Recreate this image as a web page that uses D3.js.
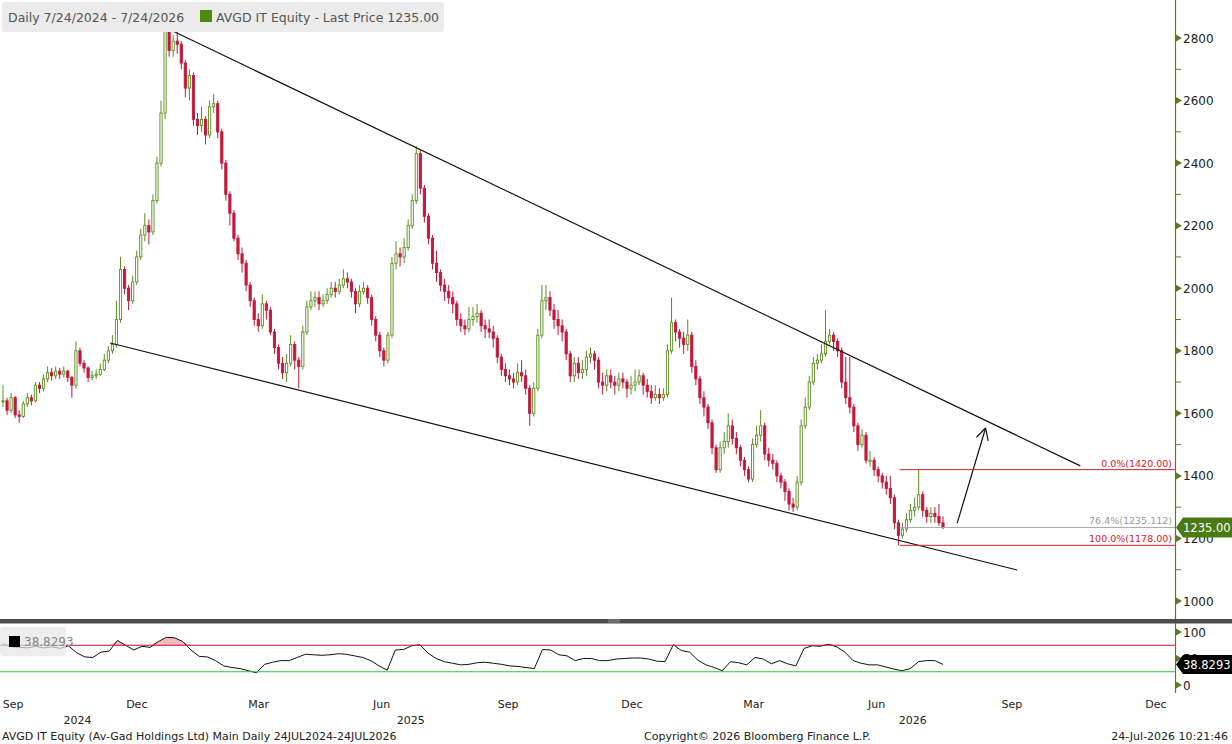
<!DOCTYPE html>
<html>
<head>
<meta charset="utf-8">
<script src="https://cdn.jsdelivr.net/npm/d3@7"></script>
<style>
  body { margin: 0; background: #fff; }
  svg { display: block; font-family: "DejaVu Sans", sans-serif; }
</style>
</head>
<body>
<svg id="chart" width="1232" height="744"></svg>
<script>
// dates of the visible window
const firstDate = new Date(2024, 7, 30);
const lastDate = new Date(2026, 6, 24);
const axisEndDate = new Date(2026, 11, 18);

// bars, one every ~3 calendar days (open = previous close)
const closes = [
  1640,1610,1650,1595,1590,1630,1650,1640,1690,1680,
  1710,1730,1720,1735,1725,1735,1715,1690,1800,1760,
  1745,1715,1720,1725,1740,1770,1800,1820,1900,2060,
  2000,1960,2020,2100,2170,2200,2180,2280,2400,2560,
  2830,2760,2790,2780,2720,2640,2680,2540,2520,2540,
  2490,2580,2590,2500,2400,2300,2240,2160,2110,2080,
  2010,1960,1900,1880,1950,1930,1860,1810,1760,1730,
  1760,1820,1770,1750,1860,1940,1960,1970,1950,1960,
  1980,2000,1990,2010,2030,2020,1990,1950,1990,2000,
  1970,1900,1850,1800,1770,1850,2080,2110,2100,2130,
  2200,2280,2430,2320,2230,2160,2080,2050,2010,1990,
  1970,1950,1900,1880,1870,1900,1910,1920,1880,1870,
  1860,1840,1780,1740,1720,1710,1700,1730,1720,1680,
  1600,1680,1850,1960,1970,1930,1900,1880,1860,1790,
  1720,1760,1730,1740,1780,1790,1770,1700,1690,1720,
  1700,1690,1710,1700,1680,1690,1700,1720,1690,1670,
  1650,1660,1650,1660,1800,1890,1860,1840,1820,1850,
  1750,1710,1650,1620,1570,1490,1420,1490,1510,1560,
  1520,1490,1450,1420,1390,1500,1530,1560,1470,1450,
  1440,1400,1380,1350,1310,1300,1380,1560,1620,1700,
  1760,1770,1790,1830,1850,1830,1800,1700,1650,1620,
  1560,1500,1530,1450,1450,1420,1400,1380,1360,1330,
  1250,1210,1230,1260,1290,1300,1340,1290,1270,1280,
  1270,1250,1235
];
const highs = [
  1690,1650,1665,1655,1610,1640,1665,1660,1700,1700,
  1725,1750,1745,1750,1745,1750,1740,1720,1830,1810,
  1770,1750,1735,1740,1760,1790,1815,1850,1960,2100,
  2070,2010,2040,2120,2190,2240,2220,2300,2420,2600,
  2840,2830,2810,2820,2790,2730,2700,2690,2560,2580,
  2550,2600,2620,2600,2510,2410,2310,2250,2170,2130,
  2090,2020,1970,1920,1980,1960,1940,1870,1820,1780,
  1790,1850,1830,1780,1880,1960,1990,1990,1990,1980,
  2000,2020,2020,2030,2060,2050,2030,2000,2010,2020,
  2010,1980,1910,1860,1810,1860,2100,2150,2130,2160,
  2220,2300,2455,2440,2330,2240,2170,2120,2060,2030,
  2010,1990,1960,1920,1900,1940,1940,1950,1930,1900,
  1900,1880,1850,1790,1760,1740,1730,1760,1770,1740,
  1690,1700,1870,2010,2010,1990,1950,1930,1900,1870,
  1800,1780,1780,1770,1800,1810,1800,1780,1730,1740,
  1740,1720,1730,1730,1710,1720,1740,1740,1730,1710,
  1690,1690,1680,1680,1820,1970,1900,1870,1860,1900,
  1860,1770,1720,1670,1630,1580,1500,1510,1540,1600,
  1580,1540,1500,1460,1430,1520,1560,1610,1570,1490,
  1470,1450,1410,1390,1360,1330,1400,1580,1650,1720,
  1780,1790,1820,1930,1870,1860,1840,1810,1780,1780,
  1630,1570,1550,1540,1480,1460,1430,1410,1400,1400,
  1340,1260,1250,1280,1310,1330,1420,1350,1300,1300,
  1300,1310,1270
];
const lows = [
  1620,1595,1600,1585,1570,1585,1620,1625,1635,1665,
  1670,1700,1705,1710,1710,1715,1700,1650,1680,1750,
  1730,1700,1705,1710,1720,1735,1760,1790,1810,1890,
  1980,1930,1950,2010,2090,2150,2140,2170,2270,2390,
  2540,2740,2740,2750,2700,2610,2600,2520,2490,2500,
  2460,2480,2560,2480,2380,2280,2200,2150,2090,2050,
  1990,1940,1880,1860,1870,1900,1850,1790,1740,1710,
  1700,1750,1740,1680,1740,1850,1930,1940,1930,1940,
  1950,1970,1970,1980,2000,2000,1970,1920,1940,1980,
  1950,1880,1830,1780,1750,1760,1840,2060,2070,2080,
  2120,2190,2270,2300,2210,2140,2060,2020,1990,1960,
  1950,1920,1880,1860,1850,1860,1880,1890,1860,1840,
  1840,1810,1760,1720,1700,1690,1680,1690,1700,1660,
  1560,1590,1670,1840,1930,1910,1870,1850,1830,1770,
  1700,1700,1710,1710,1720,1760,1740,1680,1660,1670,
  1680,1660,1670,1680,1650,1660,1670,1690,1660,1650,
  1630,1640,1630,1640,1650,1790,1830,1810,1790,1800,
  1730,1690,1630,1590,1550,1470,1410,1410,1470,1490,
  1500,1470,1430,1400,1380,1380,1490,1510,1450,1430,
  1420,1380,1360,1320,1290,1285,1290,1370,1550,1610,
  1690,1740,1760,1780,1820,1800,1780,1680,1630,1600,
  1540,1480,1490,1440,1430,1400,1380,1360,1340,1310,
  1230,1178,1200,1220,1250,1270,1290,1270,1250,1250,
  1250,1240,1230
];

// RSI, one every ~6 calendar days
const rsiValues = [
  77,72,71,70,73,70,72,69,74,61,
  53,52,62,64,84,75,66,73,71,82,
  90,89,82,66,54,53,46,36,33,31,
  27,23,39,43,46,46,52,58,57,56,
  57,59,58,55,52,46,36,28,66,67,
  74,76,60,50,44,41,38,39,42,43,
  41,39,36,35,33,31,67,66,57,55,
  46,50,50,46,46,49,50,51,51,49,
  45,44,76,65,62,47,38,33,27,44,
  42,38,52,49,40,46,40,36,69,74,
  73,77,72,62,46,41,38,38,34,30,
  27,31,44,46,46,38.8293
];

const lastPrice = 1235.00;
const lastRsi = 38.8293;
const priceTicks = [1000, 1200, 1400, 1600, 1800, 2000, 2200, 2400, 2600, 2800];
const priceMinorTicks = [1100, 1300, 1500, 1700, 1900, 2100, 2300, 2500, 2700];
const rsiTicks = [0, 50, 100];
const rsiUpper = 75;
const rsiLower = 25;

// drawings on the chart
const upperTrend = [["2024-12-27", 2835], ["2026-10-19", 1432]];
const lowerTrend = [["2024-11-17", 1825], ["2026-09-09", 1099]];
const arrowLine = [["2026-08-02", 1249], ["2026-08-20", 1553]];
const fibStart = "2026-06-22";
const fibHigh = 1420;
const fibLow = 1178;
const fibLevels = [0, 0.764, 1];

const green = "#5b8e1c";
const red = "#c3173b";
const axisGreen = "#5a7c1c";
const parse = d3.timeParse("%Y-%m-%d");

const svg = d3.select("#chart");

const x = d3.scaleTime()
  .domain([firstDate, lastDate, axisEndDate])
  .range([3, 943, 1175]);
const y = d3.scaleLinear().domain([1000, 2800]).range([601, 38]);
const yr = d3.scaleLinear().domain([0, 100]).range([685, 632]);

const span = lastDate - firstDate;
const barDate = (i, n) => new Date(+firstDate + span * i / (n - 1));

svg.append("defs").append("clipPath").attr("id", "pclip")
  .append("rect").attr("x", 0).attr("y", 0).attr("width", 1175).attr("height", 618);
svg.append("defs").append("clipPath").attr("id", "rclip")
  .append("rect").attr("x", 0).attr("y", 624).attr("width", 1175).attr("height", 70);

// ---- price panel
const pg = svg.append("g").attr("clip-path", "url(#pclip)");

const bars = closes.map((c, i) => ({
  date: barDate(i, closes.length),
  open: i > 0 ? closes[i - 1] : c,
  close: c,
  high: highs[i],
  low: lows[i]
}));

const candle = pg.selectAll("g.candle").data(bars).enter().append("g").attr("class", "candle");
candle.append("line")
  .attr("x1", d => x(d.date)).attr("x2", d => x(d.date))
  .attr("y1", d => y(d.high)).attr("y2", d => y(d.low))
  .attr("stroke", d => d.close >= d.open ? green : red)
  .attr("stroke-width", 1);
candle.append("rect")
  .attr("x", d => x(d.date) - 1.1)
  .attr("width", 2.2)
  .attr("y", d => y(Math.max(d.open, d.close)))
  .attr("height", d => Math.max(1, Math.abs(y(d.open) - y(d.close))))
  .attr("fill", d => d.close >= d.open ? "#fff" : red)
  .attr("stroke", d => d.close >= d.open ? green : red)
  .attr("stroke-width", 0.9);

const line = d3.line().x(d => x(parse(d[0]))).y(d => y(d[1]));

pg.append("path").datum(upperTrend).attr("d", line)
  .attr("stroke", "#111").attr("stroke-width", 1.2).attr("fill", "none");
pg.append("path").datum(lowerTrend).attr("d", line)
  .attr("stroke", "#111").attr("stroke-width", 1.2).attr("fill", "none");

// arrow
pg.append("path").datum(arrowLine).attr("d", line)
  .attr("stroke", "#111").attr("stroke-width", 1.2).attr("fill", "none");
const ax0 = x(parse(arrowLine[0][0])), ay0 = y(arrowLine[0][1]);
const ax1 = x(parse(arrowLine[1][0])), ay1 = y(arrowLine[1][1]);
const ang = Math.atan2(ay1 - ay0, ax1 - ax0);
[ang + 2.65, ang - 2.65].forEach(a => {
  pg.append("line")
    .attr("x1", ax1).attr("y1", ay1)
    .attr("x2", ax1 + 13 * Math.cos(a)).attr("y2", ay1 + 13 * Math.sin(a))
    .attr("stroke", "#111").attr("stroke-width", 1.2);
});

// fibonacci retracement
fibLevels.forEach(p => {
  const v = fibHigh - p * (fibHigh - fibLow);
  const col = p === 0 || p === 1 ? "#d42026" : "#aaaaaa";
  svg.append("line")
    .attr("x1", x(parse(fibStart))).attr("x2", 1175)
    .attr("y1", y(v)).attr("y2", y(v))
    .attr("stroke", col).attr("stroke-width", 1);
  const lab = p === 0.764 ? "76.4%(1235.112)" : (p * 100).toFixed(1) + "%(" + v.toFixed(2) + ")";
  svg.append("text")
    .attr("x", 1172).attr("y", y(v) - 3)
    .attr("text-anchor", "end")
    .attr("font-size", 9.5)
    .attr("fill", p === 0.764 ? "#9a9a9a" : "#d42026")
    .text(lab);
});

// price axis
svg.append("line").attr("x1", 1175.5).attr("x2", 1175.5).attr("y1", 0).attr("y2", 619)
  .attr("stroke", axisGreen).attr("stroke-width", 1.2);
priceMinorTicks.forEach(t => {
  svg.append("line").attr("x1", 1175).attr("x2", 1181).attr("y1", y(t)).attr("y2", y(t))
    .attr("stroke", axisGreen);
});
priceTicks.forEach(t => {
  svg.append("path")
    .attr("d", `M1176,${y(t) - 3.5}L1182,${y(t)}L1176,${y(t) + 3.5}Z`)
    .attr("fill", axisGreen);
  svg.append("text").attr("x", 1183).attr("y", y(t) + 4.5)
    .attr("font-size", 12).attr("fill", "#222").text(t);
});

// last price tag
const ly = y(lastPrice);
svg.append("path")
  .attr("d", `M1176,${ly}L1183,${ly - 10}L1232,${ly - 10}L1232,${ly + 10}L1183,${ly + 10}Z`)
  .attr("fill", "#4b7a12");
svg.append("text").attr("x", 1183).attr("y", ly + 4.5)
  .attr("font-size", 11.5).attr("fill", "#fff").text(lastPrice.toFixed(2));

// legend
svg.append("rect").attr("x", 2).attr("y", 2).attr("width", 442).attr("height", 30)
  .attr("rx", 3).attr("fill", "#ebebeb");
svg.append("text").attr("x", 8).attr("y", 22).attr("font-size", 12.5).attr("fill", "#555")
  .text("Daily 7/24/2024 - 7/24/2026");
svg.append("rect").attr("x", 200).attr("y", 10).attr("width", 12).attr("height", 12)
  .attr("fill", "#4f8a10");
svg.append("text").attr("x", 216).attr("y", 22).attr("font-size", 12.5).attr("fill", "#555")
  .text("AVGD IT Equity - Last Price " + lastPrice.toFixed(2));

// ---- separator
svg.append("rect").attr("x", 0).attr("y", 619).attr("width", 1232).attr("height", 4.5)
  .attr("fill", "#4d4d4d");
[620, 622].forEach(yy => svg.append("line").attr("x1", 608).attr("x2", 620)
  .attr("y1", yy).attr("y2", yy).attr("stroke", "#aaa").attr("stroke-width", 0.7));

// ---- RSI panel
const rg = svg.append("g").attr("clip-path", "url(#rclip)");
const rsiPts = rsiValues.map((v, i) => ({ date: barDate(i, rsiValues.length), v: v }));

rg.append("path").datum(rsiPts)
  .attr("d", d3.area().x(d => x(d.date)).y0(yr(rsiUpper)).y1(d => yr(Math.max(d.v, rsiUpper))))
  .attr("fill", "#f6b9b9");
rg.append("path").datum(rsiPts)
  .attr("d", d3.area().x(d => x(d.date)).y0(yr(rsiLower)).y1(d => yr(Math.min(d.v, rsiLower))))
  .attr("fill", "#b9ecb9");

svg.append("line").attr("x1", 0).attr("x2", 1175).attr("y1", yr(rsiUpper)).attr("y2", yr(rsiUpper))
  .attr("stroke", "#c8102e").attr("stroke-width", 1.2);
svg.append("line").attr("x1", 0).attr("x2", 1175).attr("y1", yr(rsiLower)).attr("y2", yr(rsiLower))
  .attr("stroke", "#33c13a").attr("stroke-width", 1.2);

rg.append("path").datum(rsiPts)
  .attr("d", d3.line().x(d => x(d.date)).y(d => yr(d.v)))
  .attr("fill", "none").attr("stroke", "#111").attr("stroke-width", 1);

// RSI legend box
svg.append("rect").attr("x", 0).attr("y", 627).attr("width", 66).attr("height", 29)
  .attr("rx", 3).attr("fill", "#e6e6e6").attr("opacity", 0.72);
svg.append("rect").attr("x", 9).attr("y", 636).attr("width", 11).attr("height", 11).attr("fill", "#000");
svg.append("text").attr("x", 24).attr("y", 646).attr("font-size", 12).attr("fill", "#888")
  .text(lastRsi.toFixed(4));

// RSI axis
svg.append("line").attr("x1", 1175.5).attr("x2", 1175.5).attr("y1", 623).attr("y2", 693)
  .attr("stroke", axisGreen).attr("stroke-width", 1.2);
rsiTicks.forEach(t => {
  svg.append("path")
    .attr("d", `M1176,${yr(t) - 3.5}L1182,${yr(t)}L1176,${yr(t) + 3.5}Z`)
    .attr("fill", axisGreen);
  svg.append("text").attr("x", 1183).attr("y", yr(t) + 4.5)
    .attr("font-size", 12).attr("fill", "#222").text(t);
});
const ry = yr(lastRsi);
svg.append("path")
  .attr("d", `M1176,${ry}L1183,${ry - 9.5}L1232,${ry - 9.5}L1232,${ry + 9.5}L1183,${ry + 9.5}Z`)
  .attr("fill", "#000");
svg.append("text").attr("x", 1183).attr("y", ry + 4.5)
  .attr("font-size", 11.5).attr("fill", "#fff").text(lastRsi.toFixed(4));

// ---- time axis
const months = d3.timeMonth.range(new Date(2024, 8, 1), new Date(2026, 11, 2), 3);
svg.selectAll("text.month").data(months).enter().append("text")
  .attr("class", "month")
  .attr("x", d => x(d) - 3)
  .attr("y", 708)
  .attr("font-size", 11).attr("fill", "#222")
  .text(d3.timeFormat("%b"));

const left = x.invert(0), right = axisEndDate;
[2024, 2025, 2026].forEach(yy => {
  const a = d3.max([new Date(yy, 0, 1), left]);
  const b = d3.min([new Date(yy + 1, 0, 1), right]);
  svg.append("text").attr("x", (x(a) + x(b)) / 2 - 8).attr("y", 724)
    .attr("text-anchor", "middle").attr("font-size", 11).attr("fill", "#222").text(yy);
});

// footer
svg.append("text").attr("x", 2).attr("y", 740).attr("font-size", 11).attr("fill", "#222")
  .text("AVGD IT Equity (Av-Gad Holdings Ltd) Main Daily 24JUL2024-24JUL2026");
svg.append("text").attr("x", 644).attr("y", 740).attr("font-size", 11).attr("fill", "#222")
  .text("Copyright\u00a9 2026 Bloomberg Finance L.P.");
svg.append("text").attr("x", 1228).attr("y", 740).attr("text-anchor", "end")
  .attr("font-size", 11).attr("fill", "#222").text("24-Jul-2026 10:21:46");
</script>
</body>
</html>
